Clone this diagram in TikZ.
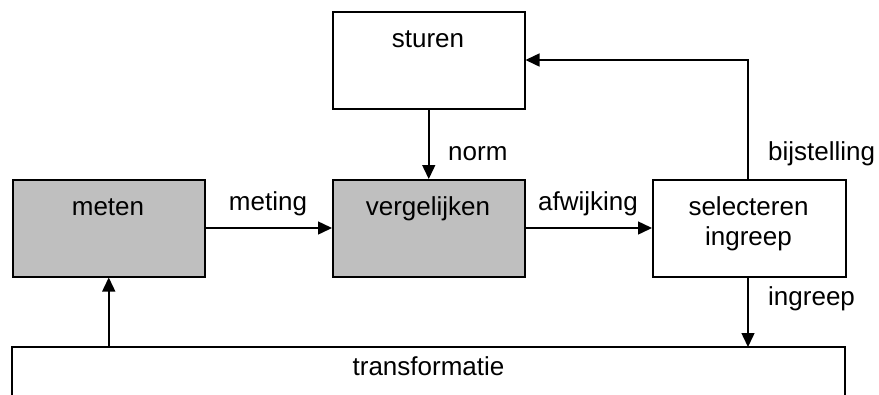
\documentclass[tikz,border=0pt]{standalone}
\usepackage{fontspec}
\setmainfont{Liberation Sans}
\usetikzlibrary{arrows.meta}
\begin{document}
\begin{tikzpicture}[x=1pt,y=-1pt,
  box/.style={draw, line width=1.5pt, rectangle, inner sep=0pt, anchor=north west,
    minimum width=#1, minimum height=97pt},
  box/.default=192pt,
  grey/.style={fill=black!25},
  txt/.style={anchor=base, inner sep=0pt, font=\fontsize{26}{31}\selectfont},
  lbl/.style={txt, anchor=base west},
  arr/.style={line width=1.5pt, -{Triangle[length=14pt,width=13pt]}},
  line/.style={line width=1.5pt, line join=miter}
]
\useasboundingbox (0,0) rectangle (879,394);

% process boxes
\node[box] (stu) at (332,11) {};
\node[box, grey] (met) at (12,179) {};
\node[box, grey] (ver) at (332,179) {};
\node[box=193pt] (sel) at (652,179) {};

% box texts
\node[txt] (tstu) at (428,47.5) {sturen};
\node[txt] (tmet) at (108,215) {meten};
\node[txt] (tver) at (428,215) {vergelijken};
\node[txt, align=center] (tsel) at (748.5,215) {selecteren};
\node[txt] (tsel2) at (748.5,245) {ingreep};

% transformation box, open at the bottom
\coordinate (tfl) at (12,347);
\coordinate (tfr) at (845,347);
\draw[line] (12,396) -- (tfl) -- (tfr) -- (845,396);
\node[txt] (ttf) at (428.5,375) {transformatie};

% connectors
\draw[arr] (met.east |- 0,228) -- (ver.west |- 0,228);
\draw[arr] (ver.east |- 0,228) -- (sel.west |- 0,228);
\draw[arr] (stu.south) -- (ver.north);
\coordinate (bend) at (748,60);
\draw[arr, line join=miter] (sel.north -| bend) -- (bend) -- (stu.east |- bend);
\draw[arr] (sel.south -| bend) -- (tfl -| bend);
\draw[arr] (tfl -| met.south) -- (met.south);

% connector labels
\node[txt] (lmeting) at (268,210) {meting};
\node[txt] (lafw) at (588,210) {afwijking};
\node[lbl] (lnorm) at (448,160) {norm};
\node[lbl] (lbij) at (768,160) {bijstelling};
\node[lbl] (ling) at (768,305) {ingreep};
\end{tikzpicture}
\end{document}
